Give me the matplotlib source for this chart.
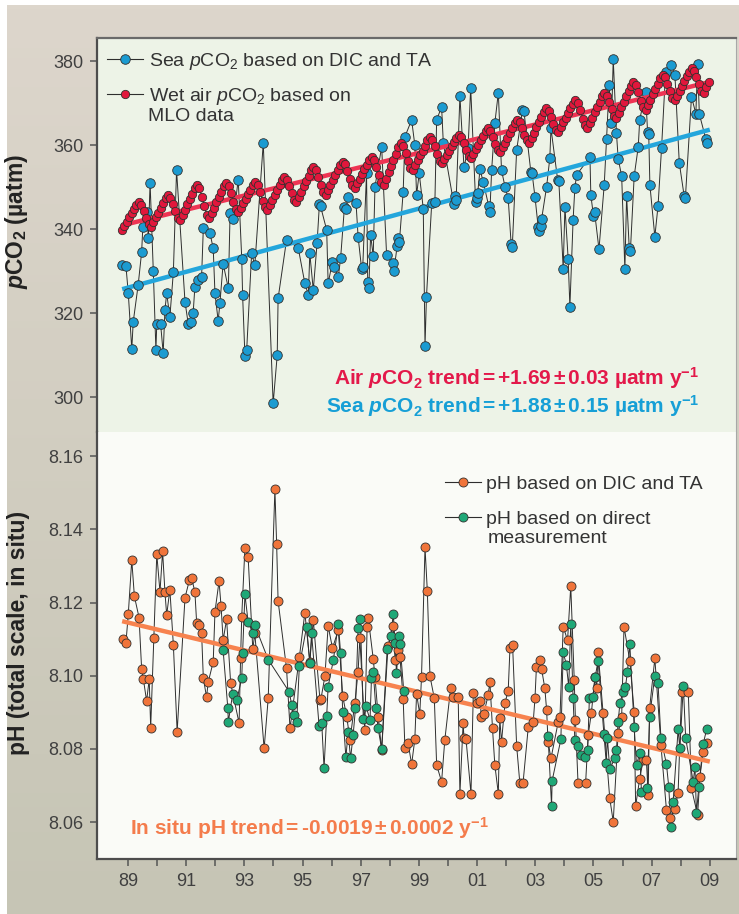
import numpy as np
import matplotlib.pyplot as plt
from matplotlib.lines import Line2D

plt.rcParams['font.family'] = ['Liberation Sans', 'DejaVu Sans']
plt.rcParams['mathtext.fontset'] = 'custom'
plt.rcParams['mathtext.rm'] = 'Liberation Sans'
plt.rcParams['mathtext.it'] = 'Liberation Sans:italic'
plt.rcParams['mathtext.bf'] = 'Liberation Sans:bold'
plt.rcParams['mathtext.bfit'] = 'Liberation Sans:italic:bold'

# ---- wet air pCO2 from MLO, monthly, starting Oct 1988 (uatm)
air_pco2 = [
    339.8, 340.8, 341.8, 342.8, 343.8, 344.7, 345.7, 346.4, 345.8, 344.3, 342.6, 341.1,
    340.5, 341.6, 342.8, 343.9, 345.1, 346.2, 347.3, 348.1, 347.5, 346.0, 344.2, 342.7,
    342.1, 343.4, 344.6, 345.9, 347.1, 348.4, 349.7, 350.5, 349.7, 347.7, 345.4, 343.4,
    342.6, 343.9, 345.1, 346.4, 347.6, 348.9, 350.2, 351.0, 350.3, 348.6, 346.5, 344.7,
    344.0, 345.1, 346.2, 347.2, 348.3, 349.4, 350.5, 351.2, 350.5, 348.9, 346.8, 345.2,
    344.5, 345.7, 346.9, 348.1, 349.2, 350.4, 351.6, 352.4, 351.8, 350.3, 348.5, 347.0,
    346.4, 347.7, 348.9, 350.2, 351.4, 352.7, 354.0, 354.8, 354.1, 352.5, 350.4, 348.8,
    348.1, 349.3, 350.5, 351.7, 352.8, 354.0, 355.2, 356.0, 355.4, 353.8, 352.0, 350.4,
    349.8, 350.9, 352.0, 353.1, 354.2, 355.3, 356.4, 357.1, 356.4, 354.8, 352.8, 351.2,
    350.5, 352.0, 353.5, 355.0, 356.5, 358.0, 359.5, 360.5, 359.8, 358.2, 356.3, 354.6,
    354.0, 355.2, 356.4, 357.6, 358.7, 359.9, 361.1, 361.9, 361.3, 359.7, 357.9, 356.3,
    355.7, 356.7, 357.7, 358.7, 359.7, 360.7, 361.7, 362.4, 361.9, 360.5, 358.8, 357.4,
    356.9, 358.0, 359.0, 360.1, 361.2, 362.2, 363.3, 364.0, 363.4, 362.0, 360.3, 358.9,
    358.3, 359.5, 360.6, 361.8, 362.9, 364.1, 365.2, 366.0, 365.5, 364.1, 362.4, 361.1,
    360.5, 361.7, 363.0, 364.2, 365.5, 366.7, 368.0, 368.8, 368.2, 366.8, 365.1, 363.7,
    363.1, 364.2, 365.4, 366.5, 367.7, 368.8, 369.9, 370.7, 370.0, 368.4, 366.3, 364.7,
    364.0, 365.3, 366.5, 367.8, 369.0, 370.3, 371.6, 372.4, 371.8, 370.3, 368.5, 367.0,
    366.4, 367.7, 369.0, 370.3, 371.6, 372.9, 374.1, 375.0, 374.3, 372.7, 370.6, 369.0,
    368.3, 369.6, 370.8, 372.1, 373.3, 374.6, 375.9, 376.7, 376.1, 374.6, 372.8, 371.3,
    370.7, 371.8, 373.0, 374.1, 375.3, 376.4, 377.5, 378.3, 377.7, 376.2, 374.5, 373.0,
    372.4, 373.8, 375.0,
]
air_year = 1988 + (9.5 + np.arange(len(air_pco2))) / 12

# ---- sea pCO2 from DIC and TA (uatm)
sea_year = [
    1988.78, 1988.93, 1989.01, 1989.13, 1989.18, 1989.35, 1989.47, 1989.51, 1989.64, 1989.70,
    1989.76, 1989.87, 1989.96, 1989.99, 1990.12, 1990.21, 1990.27, 1990.33, 1990.44, 1990.56,
    1990.67, 1990.96, 1991.07, 1991.15, 1991.24, 1991.30, 1991.42, 1991.53, 1991.59, 1991.82,
    1991.93, 1991.99, 1992.10, 1992.16, 1992.27, 1992.45, 1992.51, 1992.62, 1992.79, 1992.91,
    1992.94, 1993.02, 1993.08, 1993.25, 1993.36, 1993.65, 1993.99, 1994.13, 1994.16, 1994.45,
    1994.85, 1995.08, 1995.20, 1995.25, 1995.37, 1995.50, 1995.58, 1995.62, 1995.83, 1995.88,
    1996.03, 1996.08, 1996.23, 1996.31, 1996.44, 1996.48, 1996.57, 1996.84, 1996.91, 1997.03,
    1997.07, 1997.20, 1997.24, 1997.28, 1997.34, 1997.43, 1997.49, 1997.72, 1997.89, 1998.10,
    1998.14, 1998.25, 1998.29, 1998.33, 1998.46, 1998.52, 1998.75, 1998.86, 1998.92, 1999.01,
    1999.15, 1999.21, 1999.26, 1999.44, 1999.55, 1999.61, 1999.78, 1999.84, 2000.20, 2000.24,
    2000.28, 2000.41, 2000.55, 2000.69, 2000.78, 2000.95, 2000.98, 2001.02, 2001.10, 2001.21,
    2001.40, 2001.44, 2001.50, 2001.61, 2001.73, 2001.84, 2001.96, 2002.07, 2002.17, 2002.21,
    2002.36, 2002.56, 2002.61, 2002.85, 2002.89, 2002.99, 2003.10, 2003.14, 2003.18, 2003.22,
    2003.39, 2003.50, 2003.54, 2003.77, 2003.81, 2003.96, 2004.02, 2004.13, 2004.19, 2004.30,
    2004.36, 2004.42, 2004.88, 2004.91, 2005.00, 2005.04, 2005.19, 2005.37, 2005.45, 2005.54,
    2005.62, 2005.68, 2005.79, 2005.85, 2005.97, 2006.08, 2006.14, 2006.23, 2006.27, 2006.40,
    2006.54, 2006.59, 2006.79, 2006.86, 2006.90, 2006.94, 2007.11, 2007.22, 2007.34, 2007.48,
    2007.68, 2007.80, 2007.95, 2008.12, 2008.16, 2008.37, 2008.52, 2008.58, 2008.64, 2008.86,
    2008.92,
]
sea_pco2 = [
    331.4, 331.2, 324.8, 311.4, 317.9, 326.7, 334.6, 340.5, 344.1, 338.0,
    351.0, 330.1, 311.2, 317.5, 317.5, 310.5, 320.7, 324.7, 319.1, 329.8,
    354.0, 322.7, 317.5, 318.0, 320.0, 326.3, 327.9, 328.6, 340.2, 339.0,
    335.4, 324.7, 318.2, 322.3, 331.8, 325.9, 343.9, 342.3, 351.8, 333.0,
    324.3, 309.8, 311.2, 334.2, 331.4, 360.5, 298.5, 310.0, 323.5, 337.4,
    335.6, 327.1, 324.3, 334.2, 325.5, 336.7, 345.9, 345.4, 339.8, 327.1,
    332.2, 331.0, 328.6, 333.2, 345.2, 344.9, 347.7, 346.1, 338.2, 330.6,
    331.0, 353.3, 327.5, 326.0, 338.6, 333.6, 350.1, 359.6, 333.8, 332.0,
    330.0, 336.0, 338.0, 337.0, 348.9, 362.0, 366.0, 360.0, 348.1, 353.3,
    344.9, 312.1, 323.9, 346.1, 346.5, 366.0, 369.1, 360.4, 346.0, 348.0,
    347.0, 371.7, 354.7, 359.2, 373.7, 346.5, 347.5, 348.5, 354.2, 351.3,
    345.5, 344.0, 354.0, 365.2, 372.5, 354.0, 350.1, 347.3, 336.5, 335.8,
    358.8, 368.3, 368.1, 353.5, 353.3, 347.7, 340.5, 339.5, 340.7, 342.5,
    350.1, 356.9, 364.0, 351.7, 351.5, 330.6, 345.3, 333.0, 321.5, 342.1,
    349.7, 352.9, 357.2, 348.1, 343.2, 344.0, 335.2, 350.5, 361.4, 374.3,
    365.3, 380.5, 362.9, 356.8, 352.6, 330.4, 347.9, 335.5, 334.8, 352.6,
    359.6, 366.0, 372.7, 363.2, 362.7, 350.5, 338.2, 345.5, 359.2, 377.5,
    379.0, 376.7, 355.8, 347.8, 347.4, 371.5, 367.5, 379.3, 367.4, 361.5,
    360.6,
]

# ---- pH based on DIC and TA
ph_calc_year = [
    1988.82, 1988.93, 1989.01, 1989.13, 1989.22, 1989.38, 1989.47, 1989.53, 1989.64, 1989.73,
    1989.78, 1989.89, 1989.99, 1990.10, 1990.19, 1990.27, 1990.33, 1990.44, 1990.56, 1990.69,
    1990.96, 1991.11, 1991.19, 1991.30, 1991.36, 1991.44, 1991.53, 1991.59, 1991.70, 1991.76,
    1991.93, 1991.99, 1992.13, 1992.20, 1992.27, 1992.39, 1992.53, 1992.82, 1992.87, 1992.91,
    1993.02, 1993.13, 1993.29, 1993.36, 1993.68, 1993.82, 1994.05, 1994.11, 1994.16, 1994.45,
    1994.57, 1994.89, 1995.08, 1995.25, 1995.37, 1995.60, 1995.63, 1995.77, 1995.88, 1996.03,
    1996.23, 1996.38, 1996.52, 1996.63, 1996.80, 1996.91, 1996.97, 1997.14, 1997.22, 1997.26,
    1997.43, 1997.49, 1997.60, 1997.72, 1997.94, 1998.12, 1998.18, 1998.29, 1998.35, 1998.46,
    1998.52, 1998.63, 1998.75, 1998.86, 1998.92, 1999.03, 1999.09, 1999.21, 1999.29, 1999.38,
    1999.53, 1999.61, 1999.78, 1999.89, 2000.09, 2000.18, 2000.35, 2000.41, 2000.52, 2000.55,
    2000.62, 2000.79, 2000.87, 2000.98, 2001.10, 2001.15, 2001.23, 2001.38, 2001.44, 2001.53,
    2001.61, 2001.73, 2001.78, 2001.84, 2001.96, 2002.07, 2002.13, 2002.22, 2002.36, 2002.47,
    2002.58, 2002.76, 2002.93, 2002.99, 2003.04, 2003.16, 2003.22, 2003.33, 2003.39, 2003.44,
    2003.54, 2003.79, 2003.85, 2003.96, 2004.11, 2004.22, 2004.34, 2004.38, 2004.47, 2004.73,
    2004.82, 2004.93, 2005.05, 2005.11, 2005.16, 2005.33, 2005.56, 2005.68, 2005.85, 2005.97,
    2006.05, 2006.25, 2006.40, 2006.45, 2006.59, 2006.71, 2006.82, 2006.88, 2006.93, 2007.11,
    2007.32, 2007.51, 2007.63, 2007.80, 2007.91, 2008.03, 2008.26, 2008.37, 2008.58, 2008.66,
    2008.77, 2008.92,
]
ph_calc = [
    8.1099, 8.1090, 8.1168, 8.1316, 8.1217, 8.1159, 8.1017, 8.0990, 8.0931, 8.0990,
    8.0858, 8.1102, 8.1332, 8.1229, 8.1340, 8.1229, 8.1166, 8.1235, 8.1084, 8.0847,
    8.1213, 8.1261, 8.1266, 8.1229, 8.1145, 8.1138, 8.1118, 8.0993, 8.0942, 8.0983,
    8.1038, 8.1175, 8.1258, 8.1190, 8.1097, 8.1154, 8.0979, 8.0870, 8.1047, 8.1161,
    8.1350, 8.1325, 8.1072, 8.1116, 8.0801, 8.0938, 8.1510, 8.1359, 8.1204, 8.1020,
    8.0856, 8.1050, 8.1172, 8.1038, 8.1152, 8.0933, 8.0935, 8.0999, 8.1136, 8.1075,
    8.1125, 8.0944, 8.0888, 8.0824, 8.0926, 8.1011, 8.1102, 8.0851, 8.1134, 8.1157,
    8.1046, 8.0997, 8.0888, 8.0797, 8.1081, 8.1136, 8.1043, 8.1070, 8.1050, 8.0935,
    8.0801, 8.0815, 8.0758, 8.0826, 8.0950, 8.0895, 8.0997, 8.1351, 8.1231, 8.0999,
    8.0938, 8.0756, 8.0710, 8.0824, 8.0965, 8.0942, 8.0942, 8.0677, 8.0871, 8.0829,
    8.0826, 8.0677, 8.0952, 8.0926, 8.0931, 8.0888, 8.0895, 8.0947, 8.0983, 8.0856,
    8.0756, 8.0678, 8.0883, 8.0819, 8.0926, 8.0959, 8.1075, 8.1084, 8.0808, 8.0706,
    8.0707, 8.0860, 8.0874, 8.0938, 8.1024, 8.1043, 8.1017, 8.0965, 8.0906, 8.0819,
    8.0774, 8.0874, 8.0888, 8.1134, 8.1097, 8.1245, 8.0988, 8.0879, 8.0706, 8.0706,
    8.0838, 8.0899, 8.0997, 8.0965, 8.1065, 8.0899, 8.0665, 8.0601, 8.0844, 8.0888,
    8.1134, 8.1041, 8.0901, 8.0644, 8.0719, 8.0769, 8.0769, 8.0674, 8.0911, 8.1047,
    8.0810, 8.0633, 8.0610, 8.0637, 8.0680, 8.0956, 8.0956, 8.0692, 8.0619, 8.0724,
    8.0792, 8.0817,
]

# ---- pH based on direct measurement (gap 1998.5-2003.4)
ph_meas_year = [
    1992.27, 1992.43, 1992.45, 1992.60, 1992.74, 1992.91, 1992.94, 1993.02, 1993.13, 1993.29,
    1993.36, 1993.82, 1994.54, 1994.63, 1994.71, 1994.80, 1994.89, 1995.14, 1995.25, 1995.31,
    1995.57, 1995.66, 1995.74, 1995.83, 1995.88, 1996.06, 1996.23, 1996.31, 1996.38, 1996.49,
    1996.57, 1996.65, 1996.74, 1996.82, 1996.91, 1996.99, 1997.09, 1997.18, 1997.32, 1997.37,
    1997.43, 1997.52, 1997.60, 1997.72, 1997.91, 1998.03, 1998.12, 1998.18, 1998.23, 1998.32,
    1998.35, 1998.48, 2001.00, 2003.44, 2003.56, 2003.58, 2003.88, 2003.96, 2004.07, 2004.15,
    2004.22, 2004.30, 2004.36, 2004.47, 2004.58, 2004.72, 2004.80, 2004.86, 2004.98, 2005.06,
    2005.16, 2005.36, 2005.44, 2005.48, 2005.56, 2005.73, 2005.79, 2005.85, 2005.91, 2006.02,
    2006.10, 2006.17, 2006.25, 2006.40, 2006.48, 2006.59, 2006.65, 2006.85, 2006.93, 2007.11,
    2007.22, 2007.32, 2007.51, 2007.59, 2007.66, 2007.74, 2007.91, 2007.97, 2008.09, 2008.17,
    2008.43, 2008.49, 2008.54, 2008.62, 2008.77, 2008.89,
]
ph_meas = [
    8.1070, 8.0913, 8.0874, 8.0951, 8.0933, 8.0993, 8.1063, 8.1222, 8.1147, 8.1116,
    8.1138, 8.1044, 8.0956, 8.0920, 8.0892, 8.0874, 8.1026, 8.1134, 8.1034, 8.1116,
    8.0862, 8.0870, 8.0747, 8.0890, 8.0970, 8.1043, 8.1141, 8.1061, 8.0901, 8.0777,
    8.0847, 8.0774, 8.0838, 8.0911, 8.1129, 8.1154, 8.0881, 8.0917, 8.0879, 8.0994,
    8.1011, 8.0911, 8.0856, 8.0799, 8.1072, 8.1108, 8.1168, 8.1090, 8.1006, 8.1108,
    8.1086, 8.0958, np.nan, 8.0835, 8.0644, 8.0713, 8.0826, 8.1065, 8.1029, 8.0970,
    8.1141, 8.0938, 8.0824, 8.0808, 8.0783, 8.0778, 8.0797, 8.0938, 8.0942, 8.0997,
    8.1041, 8.0840, 8.0762, 8.0829, 8.0744, 8.0774, 8.0797, 8.0874, 8.0926, 8.0956,
    8.0970, 8.1011, 8.1086, 8.0859, 8.0756, 8.0789, 8.0683, 8.0692, 8.0888, 8.0999,
    8.0979, 8.0829, 8.0758, 8.0695, 8.0587, 8.0655, 8.0853, 8.0801, 8.0972, 8.0829,
    8.0710, 8.0751, 8.0624, 8.0695, 8.0813, 8.0853,
]

# ---- linear trends (value at 1988.8, slope per year)
trend_span = np.array([1988.8, 2009.0])
air_trend = 340.9 + 1.69 * (trend_span - 1988.8)
sea_trend = 325.7 + 1.88 * (trend_span - 1988.8)
ph_trend = 8.1149 - 0.0019 * (trend_span - 1988.8)

year_ticks = [1989, 1991, 1993, 1995, 1997, 1999, 2001, 2003, 2005, 2007, 2009]
year_labels = ['89', '91', '93', '95', '97', '99', '01', '03', '05', '07', '09']
year_minor = [1990, 1992, 1994, 1996, 1998, 2000, 2002, 2004, 2006, 2008]

# colours
c_blue, c_blue_tr, c_blue_tx = '#1b9bd1', '#23a6dc', '#169fd6'
c_red, c_red_tr, c_red_tx = '#e1173c', '#ee3453', '#e3194a'
c_org, c_org_tr, c_org_tx = '#f0743a', '#f7834f', '#f47c4c'
c_grn = '#1fa877'
c_edge = '#33302e'
c_line = '#2e2e2e'

W, H = 739, 914
fig = plt.figure(figsize=(W / 100, H / 100), dpi=100, facecolor='white')

# tan gradient frame
bg = fig.add_axes([7 / W, 0, 1 - 7 / W, 1 - 5 / H], zorder=-10)
g = np.linspace(0, 1, 256)[:, None, None]
top = np.array([221, 214, 204]) / 255
bot = np.array([198, 197, 181]) / 255
bg.imshow(top * (1 - g) + bot * g, aspect='auto', extent=[0, 1, 0, 1])
bg.axis('off')

L, R = 97 / W, 736 / W
ax1 = fig.add_axes([L, 1 - 432 / H, R - L, (432 - 38) / H])
ax2 = fig.add_axes([L, 1 - 859 / H, R - L, (859 - 432) / H], sharex=ax1)

for ax, fc in ((ax1, '#edf3e7'), (ax2, '#fafbf7')):
    ax.set_facecolor(fc)
    ax.spines['left'].set_color('#4d4d4d')
    ax.spines['left'].set_linewidth(1.6)
    ax.spines['right'].set_color('#a8a8a8')
    ax.spines['right'].set_linewidth(0.8)
    ax.tick_params(axis='y', direction='out', length=5, width=1.1, color='#555555',
                   labelsize=13, labelcolor='#404040', pad=5)
ax1.spines['bottom'].set_visible(False)
ax1.spines['top'].set_color('#6a6a6a')
ax1.spines['top'].set_linewidth(1.6)
ax2.spines['top'].set_visible(False)
ax2.spines['bottom'].set_color('#4d4d4d')
ax2.spines['bottom'].set_linewidth(1.6)

# ---- upper panel
ax1.plot(sea_year, sea_pco2, color=c_line, lw=0.7, zorder=2)
ax1.plot(trend_span, sea_trend, color=c_blue_tr, lw=3.2, solid_capstyle='butt', zorder=3)
ax1.plot(sea_year, sea_pco2, ls='none', marker='o', ms=6.9, mfc=c_blue, mec=c_edge, mew=0.6, zorder=4)
ax1.plot(air_year, air_pco2, color=c_line, lw=0.7, zorder=5)
ax1.plot(trend_span, air_trend, color=c_red_tr, lw=3.2, solid_capstyle='butt', zorder=6)
ax1.plot(air_year, air_pco2, ls='none', marker='o', ms=6.0, mfc=c_red, mec=c_edge, mew=0.6, zorder=7)

ax1.set_ylim(291.7, 385.5)
ax1.set_yticks([300, 320, 340, 360, 380])
ax1.tick_params(axis='x', bottom=False, labelbottom=False)
ax1.set_ylabel(r'$\mathbfit{p}$CO$_\mathbf{2}$ (µatm)', fontsize=16.5, fontweight='bold', color='#222222')
ax1.yaxis.set_label_coords(-0.105, 0.533)

h_sea = Line2D([], [], color=c_line, lw=0.8, marker='o', ms=6.9, mfc=c_blue, mec=c_edge, mew=0.6)
h_air = Line2D([], [], color=c_line, lw=0.8, marker='o', ms=6.0, mfc=c_red, mec=c_edge, mew=0.6)
leg1 = ax1.legend([h_sea, h_air],
                  [r'Sea $\mathit{p}$CO$_2$ based on DIC and TA', r'Wet air $\mathit{p}$CO$_2$ based on'],
                  loc='upper left', bbox_to_anchor=(0.0156, 0.967), frameon=False, fontsize=14,
                  handlelength=1.85, handletextpad=0.3, labelspacing=0.7, borderpad=0, borderaxespad=0)
for t in leg1.get_texts():
    t.set_color('#333333')
ax1.text(0.0797, 0.7995, 'MLO data', transform=ax1.transAxes, fontsize=14, color='#333333', va='center')

ax1.text(0.942, 0.137, r'Air $\mathbfit{p}$CO$_\mathbf{2}$ trend$\,$=$\,$+1.69$\,$±$\,$0.03 µatm y$^{\mathbf{-1}}$',
         transform=ax1.transAxes, ha='right', va='center', fontsize=15, fontweight='bold', color=c_red_tx)
ax1.text(0.942, 0.066, r'Sea $\mathbfit{p}$CO$_\mathbf{2}$ trend$\,$=$\,$+1.88$\,$±$\,$0.15 µatm y$^{\mathbf{-1}}$',
         transform=ax1.transAxes, ha='right', va='center', fontsize=15, fontweight='bold', color=c_blue_tx)

# ---- lower panel
ax2.plot(ph_calc_year, ph_calc, color=c_line, lw=0.7, zorder=2)
ax2.plot(ph_meas_year, ph_meas, color=c_line, lw=0.7, zorder=2)
ax2.plot(trend_span, ph_trend, color=c_org_tr, lw=3.2, solid_capstyle='butt', zorder=3)
ax2.plot(ph_calc_year, ph_calc, ls='none', marker='o', ms=6.5, mfc=c_org, mec=c_edge, mew=0.6, zorder=4)
ax2.plot(ph_meas_year, ph_meas, ls='none', marker='o', ms=6.5, mfc=c_grn, mec=c_edge, mew=0.6, zorder=5)

ax2.set_ylim(8.0499, 8.1666)
ax2.set_yticks([8.06, 8.08, 8.10, 8.12, 8.14, 8.16])
ax2.set_yticklabels(['8.06', '8.08', '8.10', '8.12', '8.14', '8.16'])
ax2.set_xlim(1987.935, 2009.9)
ax2.set_xticks(year_ticks)
ax2.set_xticklabels(year_labels)
ax2.set_xticks(year_minor, minor=True)
ax2.tick_params(axis='x', which='both', direction='out', length=5, width=1.1, color='#555555',
                labelsize=13, labelcolor='#404040', pad=5)
ax2.set_ylabel('pH (total scale, in situ)', fontsize=16.5, fontweight='bold', color='#222222')
ax2.yaxis.set_label_coords(-0.105, 0.529)

h_calc = Line2D([], [], color=c_line, lw=0.8, marker='o', ms=6.5, mfc=c_org, mec=c_edge, mew=0.6)
h_meas = Line2D([], [], color=c_line, lw=0.8, marker='o', ms=6.5, mfc=c_grn, mec=c_edge, mew=0.6)
leg2 = ax2.legend([h_calc, h_meas], ['pH based on DIC and TA', 'pH based on direct'],
                  loc='upper left', bbox_to_anchor=(0.544, 0.899), frameon=False, fontsize=14,
                  handlelength=1.85, handletextpad=0.3, labelspacing=0.92, borderpad=0, borderaxespad=0)
for t in leg2.get_texts():
    t.set_color('#333333')
ax2.text(0.611, 0.751, 'measurement', transform=ax2.transAxes, fontsize=14, color='#333333', va='center')

ax2.text(0.0516, 0.0726, r'In situ pH trend$\,$=$\,$-0.0019$\,$±$\,$0.0002 y$^{\mathbf{-1}}$',
         transform=ax2.transAxes, ha='left', va='center', fontsize=15, fontweight='bold', color=c_org_tx)

fig.savefig('out.png', dpi=100, facecolor=fig.get_facecolor())
